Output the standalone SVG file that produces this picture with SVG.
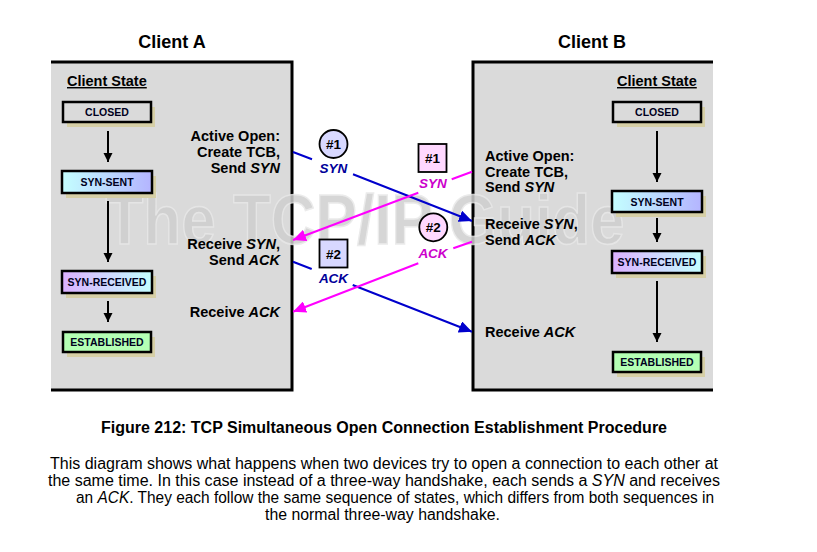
<svg xmlns="http://www.w3.org/2000/svg" width="817" height="552" viewBox="0 0 817 552">
<defs>
<style>
text{font-family:"Liberation Sans",Arial,sans-serif}
.head{font-size:18px;font-weight:bold;text-anchor:middle;fill:#000}
.cs{font-size:14.5px;font-weight:bold;text-decoration:underline;fill:#000}
.st{font-size:10.5px;font-weight:bold;text-anchor:middle;fill:#000020}
.box{stroke:#000;stroke-width:2.5}
.shadow{fill:#d6cfa6}
.lab{font-size:14.5px;font-weight:bold;fill:#000}
.num{font-size:13.5px;font-weight:bold;text-anchor:middle;fill:#000}
.msgb{font-size:13.5px;font-weight:bold;font-style:italic;text-anchor:middle;fill:#00009a}
.msgm{font-size:13.5px;font-weight:bold;font-style:italic;text-anchor:middle;fill:#cc00cc}
.sarr{stroke:#000;stroke-width:2;fill:none}
.blue{stroke:#0000cc;stroke-width:2;fill:none}
.mag{stroke:#ff00ff;stroke-width:2;fill:none}
.cap{font-size:16px;font-weight:bold;text-anchor:middle;fill:#000}
.body{font-size:16px;text-anchor:middle;fill:#000}
</style>
<linearGradient id="gSent" x1="0" y1="0" x2="1" y2="0"><stop offset="0" stop-color="#c4ffff"/><stop offset="1" stop-color="#b4b4ff"/></linearGradient>
<linearGradient id="gRecv" x1="0" y1="0" x2="1" y2="0"><stop offset="0" stop-color="#dcb0ff"/><stop offset="1" stop-color="#c4ffff"/></linearGradient>
<marker id="ak" markerWidth="10" markerHeight="10" refX="9" refY="5" orient="auto" markerUnits="userSpaceOnUse"><path d="M0,0.5 L9,5 L0,9.5 Z" fill="#000"/></marker>
<marker id="ab" markerWidth="14" markerHeight="12" refX="13" refY="6" orient="auto" markerUnits="userSpaceOnUse"><path d="M0,0 L13,6 L0,12 Z" fill="#0000cc"/></marker>
<marker id="am" markerWidth="14" markerHeight="12" refX="13" refY="6" orient="auto" markerUnits="userSpaceOnUse"><path d="M0,0 L13,6 L0,12 Z" fill="#ff00ff"/></marker>
</defs>
<rect width="817" height="552" fill="#fff"/>

<text class="head" x="172" y="48">Client A</text>
<text class="head" x="592" y="48">Client B</text>

<g id="panelA">
<rect x="51" y="62" width="241" height="328" fill="#dadada"/>
<polyline points="51,62 292,62 292,390 51,390" fill="none" stroke="#000" stroke-width="3"/>
</g>
<g id="panelB">
<rect x="473" y="62" width="240" height="328" fill="#dadada"/>
<polyline points="713,62 473,62 473,390 713,390" fill="none" stroke="#000" stroke-width="3"/>
</g>

<text x="365" y="244" font-size="70" font-weight="bold" textLength="519" lengthAdjust="spacingAndGlyphs" text-anchor="middle" fill="#cfcfcf" stroke="#e8e8e8" stroke-width="1.5" opacity="0.85">The TCP/IP Guide</text>

<text class="cs" x="67" y="86">Client State</text>
<text class="cs" x="617" y="86">Client State</text>

<g id="a-closed"><rect class="shadow" x="67" y="107" width="88" height="20"/><rect class="box" x="63" y="102" width="88" height="20" fill="#dadada"/><text class="st" x="107" y="116">CLOSED</text></g>
<g id="a-synsent"><rect class="shadow" x="66" y="176" width="90" height="22"/><rect class="box" x="62" y="171" width="90" height="22" fill="url(#gSent)"/><text class="st" x="107" y="186">SYN-SENT</text></g>
<g id="a-synrecv"><rect class="shadow" x="66" y="276" width="90" height="22"/><rect class="box" x="62" y="271" width="90" height="22" fill="url(#gRecv)"/><text class="st" x="107" y="286">SYN-RECEIVED</text></g>
<g id="a-est"><rect class="shadow" x="67" y="337" width="88" height="20"/><rect class="box" x="63" y="332" width="88" height="20" fill="#b4ffb4"/><text class="st" x="107" y="346">ESTABLISHED</text></g>

<g id="b-closed"><rect class="shadow" x="617" y="107" width="88" height="20"/><rect class="box" x="613" y="102" width="88" height="20" fill="#dadada"/><text class="st" x="657" y="116">CLOSED</text></g>
<g id="b-synsent"><rect class="shadow" x="616" y="196" width="90" height="21"/><rect class="box" x="612" y="191" width="90" height="21" fill="url(#gSent)"/><text class="st" x="657" y="205.5">SYN-SENT</text></g>
<g id="b-synrecv"><rect class="shadow" x="616" y="256" width="90" height="22"/><rect class="box" x="612" y="251" width="90" height="22" fill="url(#gRecv)"/><text class="st" x="657" y="266">SYN-RECEIVED</text></g>
<g id="b-est"><rect class="shadow" x="617" y="357" width="88" height="20"/><rect class="box" x="613" y="352" width="88" height="20" fill="#b4ffb4"/><text class="st" x="657" y="366">ESTABLISHED</text></g>

<g id="labelsA">
<text class="lab" x="280" y="140.5" text-anchor="end">Active Open:</text>
<text class="lab" x="280" y="156.5" text-anchor="end">Create TCB,</text>
<text class="lab" x="280" y="172.5" text-anchor="end">Send <tspan font-style="italic">SYN</tspan></text>
<text class="lab" x="280" y="248.5" text-anchor="end">Receive <tspan font-style="italic">SYN</tspan>,</text>
<text class="lab" x="280" y="264.5" text-anchor="end">Send <tspan font-style="italic">ACK</tspan></text>
<text class="lab" x="280" y="316.5" text-anchor="end">Receive <tspan font-style="italic">ACK</tspan></text>
</g>
<g id="labelsB">
<text class="lab" x="485" y="160.5">Active Open:</text>
<text class="lab" x="485" y="176.5">Create TCB,</text>
<text class="lab" x="485" y="192">Send <tspan font-style="italic">SYN</tspan></text>
<text class="lab" x="485" y="228.5">Receive <tspan font-style="italic">SYN</tspan>,</text>
<text class="lab" x="485" y="244.5">Send <tspan font-style="italic">ACK</tspan></text>
<text class="lab" x="485" y="336.5">Receive <tspan font-style="italic">ACK</tspan></text>
</g>

<g id="connectors">
<line class="sarr" x1="108" y1="131" x2="108" y2="162" marker-end="url(#ak)"/>
<line class="sarr" x1="108" y1="201" x2="108" y2="262" marker-end="url(#ak)"/>
<line class="sarr" x1="108" y1="301" x2="108" y2="322" marker-end="url(#ak)"/>
<line class="sarr" x1="657" y1="131" x2="657" y2="182" marker-end="url(#ak)"/>
<line class="sarr" x1="657" y1="218" x2="657" y2="242" marker-end="url(#ak)"/>
<line class="sarr" x1="657" y1="281" x2="657" y2="342" marker-end="url(#ak)"/>
<path class="blue" d="M293,152 L312,159.3 M353,174.3 L472,221" marker-end="url(#ab)"/>
<path class="mag" d="M472,171.7 L451.7,179.3 M418.3,192.7 L293,240" marker-end="url(#am)"/>
<path class="blue" d="M293,261.7 L311.7,269 M352.7,285 L472,331.7" marker-end="url(#ab)"/>
<path class="mag" d="M472,241.7 L453.3,248.3 M418.3,263.3 L293,311.7" marker-end="url(#am)"/>
</g>

<g id="msgA1"><circle cx="333.5" cy="144" r="14" fill="#d8d8ff" stroke="#000" stroke-width="1.8"/><text class="num" x="333.5" y="149">#1</text><text class="msgb" x="333.5" y="173">SYN</text></g>
<g id="msgB1"><rect x="418.5" y="144" width="28" height="28" fill="#ffd8ff" stroke="#000" stroke-width="1.8"/><text class="num" x="432.5" y="163">#1</text><text class="msgm" x="433" y="187.5">SYN</text></g>
<g id="msgB2"><circle cx="433.3" cy="227.3" r="14" fill="#ffd8ff" stroke="#000" stroke-width="1.8"/><text class="num" x="433.3" y="232.3">#2</text><text class="msgm" x="433" y="258">ACK</text></g>
<g id="msgA2"><rect x="319.5" y="239.5" width="28" height="28" fill="#d8d8ff" stroke="#000" stroke-width="1.8"/><text class="num" x="333.5" y="258.5">#2</text><text class="msgb" x="333.5" y="283">ACK</text></g>

<text class="cap" x="384" y="433" textLength="566" lengthAdjust="spacingAndGlyphs">Figure 212: TCP Simultaneous Open Connection Establishment Procedure</text>
<text class="body" x="384" y="469" textLength="668" lengthAdjust="spacingAndGlyphs">This diagram shows what happens when two devices try to open a connection to each other at</text>
<text class="body" x="384" y="486" textLength="672" lengthAdjust="spacingAndGlyphs">the same time. In this case instead of a three-way handshake, each sends a <tspan font-style="italic">SYN</tspan> and receives</text>
<text class="body" x="395" y="503" textLength="638" lengthAdjust="spacingAndGlyphs">an <tspan font-style="italic">ACK</tspan>. They each follow the same sequence of states, which differs from both sequences in</text>
<text class="body" x="382.5" y="520" textLength="235" lengthAdjust="spacingAndGlyphs">the normal three-way handshake.</text>
</svg>
